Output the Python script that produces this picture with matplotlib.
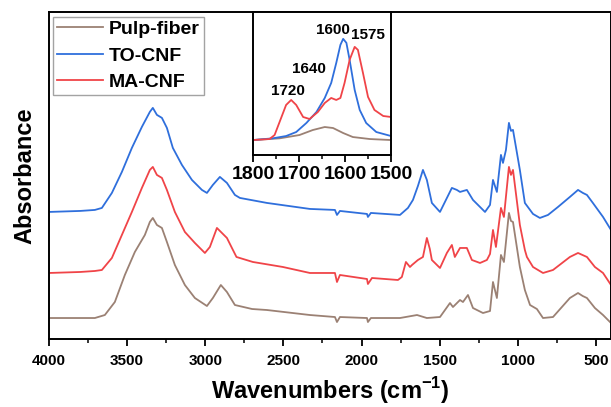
import matplotlib
matplotlib.use("Agg")
import matplotlib.pyplot as plt
from matplotlib.ticker import MultipleLocator, NullLocator

plt.rcParams['font.family'] = ['Liberation Sans', 'DejaVu Sans']
plt.rcParams['font.weight'] = 'bold'
plt.rcParams['mathtext.fontset'] = 'custom'
plt.rcParams['mathtext.rm'] = 'Liberation Sans:bold'
plt.rcParams['mathtext.bf'] = 'Liberation Sans:bold'

# FTIR spectra (stacked, arbitrary absorbance units)
wn_pulp = [4000, 3706, 3642, 3578, 3514, 3450, 3386, 3354, 3335, 3309, 3277, 3245, 3194,
           3130, 3066, 2989, 2951, 2900, 2861, 2810, 2700, 2605, 2330, 2170, 2157, 2138,
           1965, 1959, 1940, 1754, 1645, 1582, 1498, 1434, 1415, 1370, 1351, 1319, 1287,
           1223, 1178, 1159, 1134, 1108, 1089, 1057, 1044, 1031, 987, 955, 922, 878, 839,
           775, 667, 615, 585, 558, 507, 455, 404]
abs_pulp = [0.21, 0.21, 0.24, 0.37, 0.64, 0.87, 1.04, 1.17, 1.21, 1.14, 1.11, 0.97, 0.74,
            0.54, 0.41, 0.33, 0.41, 0.54, 0.47, 0.34, 0.30, 0.29, 0.24, 0.22, 0.17, 0.22,
            0.21, 0.17, 0.21, 0.21, 0.24, 0.21, 0.22, 0.36, 0.32, 0.39, 0.37, 0.44, 0.31,
            0.26, 0.28, 0.57, 0.41, 0.84, 0.77, 1.26, 1.18, 1.17, 0.72, 0.49, 0.34, 0.30,
            0.21, 0.22, 0.41, 0.46, 0.43, 0.41, 0.31, 0.24, 0.16]

wn_to = [4000, 3800, 3706, 3661, 3597, 3533, 3469, 3405, 3354, 3335, 3309, 3277, 3245,
         3207, 3149, 3085, 3021, 2989, 2951, 2906, 2861, 2810, 2778, 2605, 2330, 2170,
         2157, 2138, 1965, 1959, 1940, 1754, 1703, 1671, 1639, 1607, 1582, 1550, 1498,
         1460, 1422, 1390, 1370, 1326, 1287, 1242, 1210, 1178, 1159, 1134, 1108, 1095,
         1076, 1057, 1044, 1031, 987, 955, 903, 859, 807, 743, 667, 615, 584, 558, 520,
         455, 404]
abs_to = [1.27, 1.28, 1.29, 1.31, 1.46, 1.67, 1.91, 2.12, 2.27, 2.31, 2.24, 2.21, 2.11,
          1.91, 1.74, 1.59, 1.49, 1.46, 1.54, 1.62, 1.56, 1.44, 1.41, 1.36, 1.30, 1.29,
          1.24, 1.28, 1.25, 1.22, 1.26, 1.24, 1.31, 1.39, 1.53, 1.69, 1.59, 1.36, 1.27,
          1.39, 1.51, 1.49, 1.47, 1.49, 1.39, 1.32, 1.27, 1.34, 1.59, 1.47, 1.84, 1.76,
          1.89, 2.16, 2.08, 2.09, 1.69, 1.36, 1.25, 1.21, 1.24, 1.32, 1.42, 1.49, 1.46,
          1.44, 1.36, 1.22, 1.09]

wn_ma = [4000, 3800, 3706, 3661, 3597, 3533, 3469, 3405, 3354, 3335, 3309, 3277, 3245,
         3194, 3130, 3066, 3002, 2970, 2925, 2893, 2861, 2829, 2800, 2695, 2503, 2330,
         2170, 2157, 2138, 1965, 1959, 1933, 1767, 1742, 1716, 1690, 1677, 1639, 1607,
         1582, 1563, 1550, 1498, 1454, 1422, 1403, 1370, 1326, 1294, 1242, 1198, 1178,
         1159, 1140, 1108, 1089, 1057, 1044, 1031, 987, 955, 942, 903, 839, 775, 667,
         615, 558, 507, 455, 404]
abs_ma = [0.66, 0.67, 0.68, 0.69, 0.81, 1.04, 1.27, 1.51, 1.69, 1.72, 1.64, 1.61, 1.49,
          1.27, 1.07, 0.96, 0.86, 0.92, 1.11, 1.06, 1.01, 0.91, 0.82, 0.77, 0.72, 0.66,
          0.66, 0.57, 0.64, 0.60, 0.55, 0.61, 0.59, 0.62, 0.77, 0.72, 0.74, 0.79, 0.82,
          1.01, 0.90, 0.79, 0.71, 0.86, 0.94, 0.82, 0.91, 0.91, 0.79, 0.76, 0.79, 0.85,
          1.09, 0.92, 1.31, 1.22, 1.72, 1.64, 1.69, 1.14, 0.89, 0.82, 0.72, 0.66, 0.69,
          0.82, 0.86, 0.82, 0.72, 0.66, 0.54]

# zoomed 1800-1500 region for the inset
wn_in_pulp = [1800, 1742, 1699, 1670, 1644, 1626, 1604, 1583, 1546, 1500]
abs_in_pulp = [0.15, 0.167, 0.20, 0.25, 0.28, 0.27, 0.22, 0.18, 0.16, 0.15]
wn_in_to = [1800, 1757, 1728, 1706, 1684, 1662, 1644, 1630, 1619, 1610, 1604, 1597,
            1590, 1579, 1568, 1554, 1532, 1500]
abs_in_to = [0.15, 0.167, 0.19, 0.23, 0.32, 0.43, 0.57, 0.72, 0.92, 1.10, 1.16, 1.12,
             0.95, 0.65, 0.45, 0.32, 0.23, 0.19]
wn_in_ma = [1800, 1764, 1753, 1738, 1728, 1717, 1706, 1691, 1677, 1659, 1644, 1630,
            1619, 1610, 1601, 1590, 1579, 1572, 1561, 1550, 1536, 1517, 1500]
abs_in_ma = [0.15, 0.16, 0.20, 0.38, 0.50, 0.55, 0.50, 0.38, 0.36, 0.43, 0.52, 0.57,
             0.55, 0.57, 0.72, 0.95, 1.08, 1.05, 0.82, 0.58, 0.45, 0.39, 0.38]

peak_labels = ['1600', '1575', '1640', '1720']
peak_x = [1626, 1550, 1678, 1724]
peak_y = [1.25, 1.20, 0.86, 0.64]

c_pulp = '#9b8174'
c_to = '#2f6fdc'
c_ma = '#f04448'

fig = plt.figure(figsize=(6.11, 4.07), dpi=100)
ax = fig.add_axes([0.080, 0.167, 0.920, 0.804])
ax.plot(wn_pulp, abs_pulp, color=c_pulp, lw=1.3, label='Pulp-fiber')
ax.plot(wn_to, abs_to, color=c_to, lw=1.3, label='TO-CNF')
ax.plot(wn_ma, abs_ma, color=c_ma, lw=1.3, label='MA-CNF')
ax.set_xlim(4000, 404)
ax.set_ylim(0, 3.27)
ax.xaxis.set_major_locator(MultipleLocator(500))
ax.xaxis.set_minor_locator(MultipleLocator(250))
ax.yaxis.set_major_locator(NullLocator())
ax.tick_params(axis='x', which='major', direction='out', length=5, width=1.3,
               labelsize=11, pad=6)
ax.tick_params(axis='x', which='minor', direction='out', length=3, width=1.1)
for s in ax.spines.values():
    s.set_linewidth(1.4)
ax.set_xlabel('Wavenumbers (cm$^{\\mathbf{-1}}$)', fontsize=17, fontweight='bold', labelpad=5)
ax.set_ylabel('Absorbance', fontsize=17, fontweight='bold', labelpad=9)
leg = ax.legend(loc='upper left', bbox_to_anchor=(0.007, 0.985), borderaxespad=0,
                fontsize=14, frameon=True, fancybox=False, edgecolor='#8c8c8c',
                handlelength=2.4, handletextpad=0.3, labelspacing=0.45, borderpad=0.2)
leg.get_frame().set_linewidth(1.0)

# inset
axi = fig.add_axes([0.414, 0.619, 0.226, 0.352])
axi.plot(wn_in_pulp, abs_in_pulp, color=c_pulp, lw=1.3)
axi.plot(wn_in_to, abs_in_to, color=c_to, lw=1.3)
axi.plot(wn_in_ma, abs_in_ma, color=c_ma, lw=1.3)
axi.set_xlim(1800, 1500)
axi.set_ylim(0, 1.43)
axi.xaxis.set_major_locator(MultipleLocator(100))
axi.xaxis.set_minor_locator(MultipleLocator(50))
axi.yaxis.set_major_locator(NullLocator())
axi.tick_params(axis='x', which='major', direction='out', length=5, width=1.3,
                labelsize=14, pad=3)
axi.tick_params(axis='x', which='minor', direction='out', length=3, width=1.1)
for s in axi.spines.values():
    s.set_linewidth(1.4)
for lab, x, y in zip(peak_labels, peak_x, peak_y):
    axi.text(x, y, lab, fontsize=11, fontweight='bold', ha='center', va='center')

fig.savefig('out.png', dpi=100)
